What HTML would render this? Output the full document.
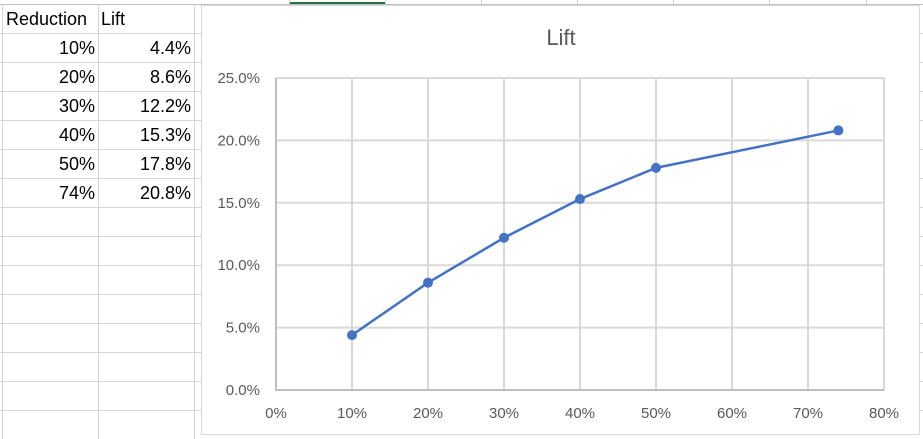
<!DOCTYPE html>
<html><head><meta charset="utf-8"><style>
body{margin:0;width:923px;height:439px;overflow:hidden;background:#fff;font-family:"Liberation Sans",Calibri,sans-serif;position:relative}
.c{position:absolute;font-size:18px;color:#000}
</style></head><body>
<svg width="923" height="439" style="position:absolute;left:0;top:0">
<g stroke="#d4d4d4" stroke-width="1">
<line x1="0" y1="4.5" x2="923" y2="4.5" stroke="#bdbdbd"/>
<line x1="2.5" y1="4" x2="2.5" y2="439"/><line x1="98.5" y1="4" x2="98.5" y2="439"/><line x1="194.5" y1="4" x2="194.5" y2="439"/>
<line x1="289.5" y1="0" x2="289.5" y2="4"/><line x1="385.5" y1="0" x2="385.5" y2="4"/><line x1="481.5" y1="0" x2="481.5" y2="4"/><line x1="577.5" y1="0" x2="577.5" y2="4"/><line x1="673.5" y1="0" x2="673.5" y2="4"/><line x1="769.5" y1="0" x2="769.5" y2="4"/><line x1="866.5" y1="0" x2="866.5" y2="4"/>
</g>
<line x1="290" y1="3" x2="385" y2="3" stroke="#217346" stroke-width="2"/>
<g id="rows" stroke="#d4d4d4"></g>
</svg>
<div class="c" style="left:6px;top:9px">Reduction</div>
<div class="c" style="left:101px;top:9px">Lift</div>
<div id="cells"></div>
<svg width="923" height="439" style="position:absolute;left:0;top:0" id="chart">
<rect x="201.5" y="5.5" width="718" height="429" fill="#fff" stroke="#d9d9d9"/>
<text x="561" y="45" text-anchor="middle" font-size="22" fill="#595959" font-family="Liberation Sans, sans-serif">Lift</text>
<g id="g"></g>
</svg>
<script>
const reductions=[10,20,30,40,50,74];
const lifts=[4.4,8.6,12.2,15.3,17.8,20.8];
const xTicks=[0,10,20,30,40,50,60,70,80];
const yTicks=[0,5,10,15,20,25];
const NS="http://www.w3.org/2000/svg";
const X=v=>276+v*7.6, Y=v=>390-v*12.48;
function mk(t,a,p){const e=document.createElementNS(NS,t);for(const k in a)e.setAttribute(k,a[k]);p.appendChild(e);return e;}
const rows=document.getElementById('rows');
for(let i=0;i<15;i++){const y=33.5+i*29;const l=mk('line',{x1:0,y1:y,x2:923,y2:y},rows);

}
const cells=document.getElementById('cells');
reductions.forEach((r,i)=>{const t=38+i*29;
const a=document.createElement('div');a.className='c';a.style.cssText=`left:0;width:95px;text-align:right;top:${t}px`;a.textContent=r+'%';


cells.appendChild(a);
const b=document.createElement('div');b.className='c';b.style.cssText=`left:98px;width:93px;text-align:right;top:${t}px`;b.textContent=lifts[i].toFixed(1)+'%';


cells.appendChild(b);});
const g=document.getElementById('g');
xTicks.forEach(v=>{if(v>0){const l=mk('line',{x1:X(v),y1:Y(25),x2:X(v),y2:Y(0),stroke:'#d9d9d9','stroke-width':2},g);

}
const t=mk('text',{x:X(v),y:418,'text-anchor':'middle','font-size':15,fill:'#595959','font-family':'Liberation Sans, sans-serif'},g);t.textContent=v+'%';

});
yTicks.forEach(v=>{if(v>0){const l=mk('line',{x1:X(0),y1:Y(v),x2:X(80),y2:Y(v),stroke:'#d9d9d9','stroke-width':2},g);

}
const t=mk('text',{x:260,y:Y(v)+5,'text-anchor':'end','font-size':15,fill:'#595959','font-family':'Liberation Sans, sans-serif'},g);t.textContent=v.toFixed(1)+'%';

});
const ax=mk('path',{d:`M${X(0)} ${Y(25)}V${Y(0)}H${X(80)}`,fill:'none',stroke:'#bfbfbf','stroke-width':2},g);


const ln=mk('polyline',{points:reductions.map((r,i)=>X(r)+','+Y(lifts[i])).join(' '),fill:'none',stroke:'#4472c4','stroke-width':2.5},g);


reductions.forEach((r,i)=>{const c=mk('circle',{cx:X(r),cy:Y(lifts[i]),r:5,fill:'#4472c4'},g);

});
</script>
</body></html>
